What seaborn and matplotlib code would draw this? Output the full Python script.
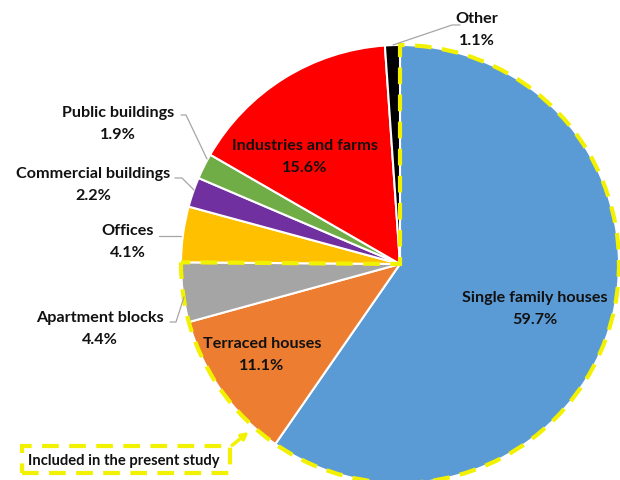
import matplotlib
matplotlib.use("Agg")
import matplotlib.pyplot as plt
from matplotlib.patches import Wedge, Rectangle
import seaborn as sns

sns.set_theme(style="white")
plt.rcParams["font.family"] = ["Lato", "DejaVu Sans"]

categories = ["Single family houses", "Terraced houses", "Apartment blocks", "Offices",
              "Commercial buildings", "Public buildings", "Industries and farms", "Other"]
shares = [59.7, 11.1, 4.4, 4.1, 2.2, 1.9, 15.6, 1.1]
colors = sns.color_palette(["#5B9BD5", "#ED7D31", "#A5A5A5", "#FFC000",
                            "#7030A0", "#70AD47", "#FF0000", "#000000"])
included = ["Single family houses", "Terraced houses", "Apartment blocks"]

W, H = 620, 481
fig = plt.figure(figsize=(W / 100, H / 100), dpi=100)
ax = fig.add_axes([0, 0, 1, 1])


def py(y):
    return H - y


cx, cy, r = 400, py(265), 219

ax.pie(shares, colors=colors, startangle=90, counterclock=False,
       center=(cx, cy), radius=r, frame=True,
       wedgeprops=dict(edgecolor="white", linewidth=1.5))
ax.set_xlim(0, W)
ax.set_ylim(0, H)
ax.set_aspect("equal")
ax.axis("off")

# dashed outline around the slices covered by the study
inc_share = sum(s for c, s in zip(categories, shares) if c in included) / sum(shares)
end_angle = 90 - 360 * inc_share
ax.add_patch(Wedge((cx, cy), r, end_angle, 90, fill=False, edgecolor="#F2F200",
                   linewidth=3, linestyle=(0, (4, 2.5)), zorder=5))

# name line position (x, y) and leader line points
label_pos = {
    "Single family houses": (535, 298, None),
    "Terraced houses": (262, 344, None),
    "Industries and farms": (305, 146, None),
    "Other": (477, 19, [(460, 26), (452, 26), (393, 46)]),
    "Public buildings": (118, 113, [(181, 116), (186, 116), (207, 160)]),
    "Commercial buildings": (93, 174, [(175, 179), (182, 179), (194, 191)]),
    "Offices": (128, 231, [(159, 237), (181, 237)]),
    "Apartment blocks": (100, 318, [(170, 323), (176, 323), (184, 298)]),
}

for cat, val in zip(categories, shares):
    x, y, line = label_pos[cat]
    ax.text(x, py(y), cat, ha="center", va="center", fontsize=11.6,
            fontweight="bold", color="#111111", zorder=6)
    ax.text(x, py(y + 22), f"{val}%", ha="center", va="center", fontsize=11.6,
            fontweight="bold", color="#111111", zorder=6)
    if line:
        ax.plot([p[0] for p in line], [py(p[1]) for p in line], color="#A6A6A6", lw=0.9, zorder=6)

# note box for the dashed outline
ax.add_patch(Rectangle((22, py(474)), 208, 27, fill=False, edgecolor="#F2F200",
                       linewidth=3, linestyle=(0, (4, 2.5)), zorder=6))
ax.text(28, py(461), "Included in the present study", ha="left", va="center",
        fontsize=10.6, fontweight="bold", color="#111111", zorder=7)
ax.annotate("", xy=(251, py(431)), xytext=(230, py(448)),
            arrowprops=dict(arrowstyle="-|>", color="#F2F200", lw=2.5, linestyle="--",
                            mutation_scale=10), zorder=7)

fig.savefig("out.png", dpi=100)
